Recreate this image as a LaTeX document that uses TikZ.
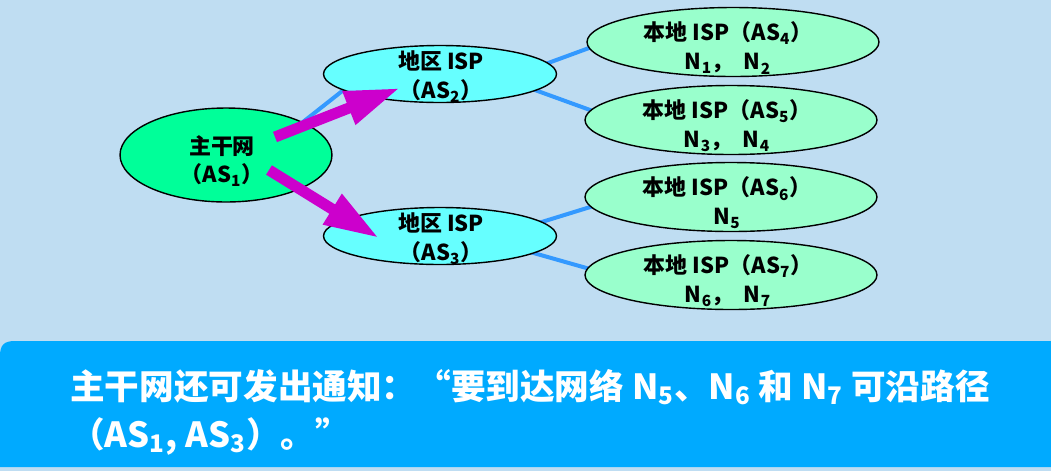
\documentclass[tikz,border=0pt]{standalone}
\usepackage{fontspec}
\setmainfont{Noto Sans CJK SC}
\usetikzlibrary{shapes.geometric,arrows.meta}
\definecolor{bgblue}{HTML}{BFDDF2}
\definecolor{boxblue}{HTML}{00AAFF}
\definecolor{coregreen}{HTML}{00FF99}
\definecolor{regcyan}{HTML}{66FFFF}
\definecolor{locgreen}{HTML}{99FFCC}
\definecolor{linkblue}{HTML}{3399FF}
\definecolor{arrmag}{HTML}{CC00CC}
\newcommand\sbs[1]{\textsubscript{#1}}
\tikzset{
  ell/.style={ellipse, draw=black, line width=0.8pt, inner sep=0pt},
  core/.style={ell, fill=coregreen, minimum width=4.24cm, minimum height=1.88cm},
  regional/.style={ell, fill=regcyan, minimum width=4.66cm, minimum height=1.14cm},
  localisp/.style={ell, fill=locgreen, minimum width=5.84cm, minimum height=1.38cm},
  txt/.style={align=center, inner sep=0pt, font=\bfseries\fontsize{12.5}{16.5}\selectfont, text=black},
  link/.style={draw=linkblue, line width=0.08cm},
  notice/.style={line width=0.22cm, draw=arrmag, -{Triangle[length=1.1cm,width=0.66cm]}},
  notetxt/.style={inner sep=0pt, text=white, font=\bfseries\fontsize{19.7}{24}\selectfont},
}
\begin{document}
\begin{tikzpicture}[x=0.02cm,y=-0.02cm]
\fill[bgblue] (0,0) rectangle (1051,471);
\useasboundingbox (0,0) rectangle (1051,471);
% bottom box
\fill[boxblue] (0,467) -- (0,356) .. controls (0,345) and (4,341) .. (15,341) -- (1051,341) -- (1051,467) -- cycle;
% connector coordinates
\coordinate (c1a) at (270,148);
\coordinate (c1b) at (360,77);
\coordinate (c24a) at (540,66);
\coordinate (c24b) at (600,44);
\coordinate (c25a) at (525,86.4);
\coordinate (c25b) at (600,113.6);
\coordinate (c36a) at (532,225);
\coordinate (c36b) at (600,204);
\coordinate (c37a) at (523,250);
\coordinate (c37b) at (597,271);
\draw[link] (c1a) -- (c1b);
\draw[link] (c24a) -- (c24b);
\draw[link] (c25a) -- (c25b);
\draw[link] (c36a) -- (c36b);
\draw[link] (c37a) -- (c37b);
% nodes
\node[core] (as1) at (226,155) {};
\node[regional] (as2) at (440,74) {};
\node[regional] (as3) at (440,236) {};
\node[localisp] (as4) at (733,42) {};
\node[localisp] (as5) at (731,120) {};
\node[localisp] (as6) at (731,197) {};
\node[localisp] (as7) at (731,275) {};
\node[txt] (t1) at (222,161) {主干网\\（AS\sbs{1}）};
\node[txt] (t2) at (441,77) {地区 ISP\\（AS\sbs{2}）};
\node[txt] (t3) at (441,239) {地区 ISP\\（AS\sbs{3}）};
\node[txt] (t4) at (728,48) {本地 ISP（AS\sbs{4}）\\N\sbs{1}，\ \ N\sbs{2}};
\node[txt] (t5) at (727,126) {本地 ISP（AS\sbs{5}）\\N\sbs{3}，\ \ N\sbs{4}};
\node[txt] (t6) at (727,203) {本地 ISP（AS\sbs{6}）\\N\sbs{5}};
\node[txt] (t7) at (728,281) {本地 ISP（AS\sbs{7}）\\N\sbs{6}，\ \ N\sbs{7}};
% arrows
\coordinate (a1s) at (275,137);
\coordinate (a1e) at (400,88);
\coordinate (a2s) at (269,170);
\coordinate (a2e) at (379,238);
\draw[notice] (a1s) -- (a1e);
\draw[notice] (a2s) -- (a2e);
% notice text
\node[notetxt, anchor=base west] (n1) at (70,399) {主干网还可发出通知：“要到达网络 N\sbs{5}、N\sbs{6} 和 N\sbs{7} 可沿路径};
\node[notetxt, anchor=base west] (n2) at (70,447) {（AS\sbs{1}, AS\sbs{3}）。”};
\end{tikzpicture}
\end{document}
